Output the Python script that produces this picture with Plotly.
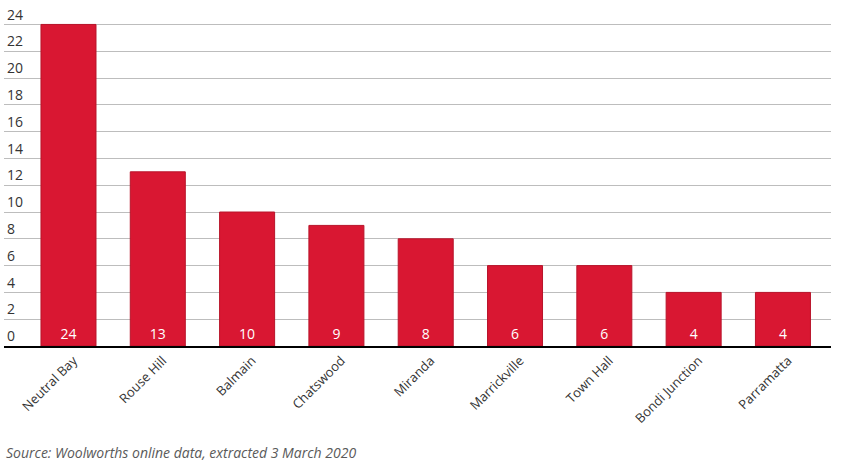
import plotly.graph_objects as go

categories = ["Neutral Bay", "Rouse Hill", "Balmain", "Chatswood", "Miranda",
              "Marrickville", "Town Hall", "Bondi Junction", "Parramatta"]
values = [24, 13, 10, 9, 8, 6, 6, 4, 4]
y_ticks = list(range(0, 25, 2))
source_text = "Source: Woolworths online data, extracted 3 March 2020"

FONT = "Open Sans"

fig = go.Figure(go.Bar(
    x=list(range(len(categories))),
    y=values,
    width=0.616,
    marker=dict(color="#D91732", line=dict(color="#B8142A", width=1)),
    text=[str(v) for v in values],
    textposition="inside",
    insidetextanchor="start",
    textfont=dict(color="white", size=14, family=FONT),
    textangle=0,
    hoverinfo="skip",
))

# plot area: y=0 at 346px, 13.42 px per unit, top extended so the "24" label fits
y_top = 25.6
top_px = 346 - y_top * (322 / 24)

fig.update_layout(
    width=856, height=467,
    margin=dict(l=4, r=25, t=top_px, b=121, autoexpand=False),
    paper_bgcolor="white", plot_bgcolor="white",
    showlegend=False,
    font=dict(family=FONT, color="#333333"),
    xaxis=dict(
        range=[-0.722, 8.538],
        tickmode="array",
        tickvals=list(range(len(categories))),
        ticktext=categories,
        tickangle=-45,
        ticklabelshift=5,
        tickfont=dict(size=13, color="#333333", family=FONT),
        showgrid=False,
        showline=True, linecolor="black", linewidth=2,
        ticks="",
        zeroline=False,
        fixedrange=True,
    ),
    yaxis=dict(
        range=[0, y_top],
        tickmode="array",
        tickvals=y_ticks,
        ticktext=[str(t) for t in y_ticks],
        ticklabelposition="inside top",
        tickfont=dict(size=14, color="#333333", family=FONT),
        showgrid=True, gridcolor="#BDBDBD", gridwidth=1,
        zeroline=False,
        showline=False,
        ticks="",
        fixedrange=True,
    ),
    annotations=[dict(
        text="<i>" + source_text + "</i>",
        xref="paper", yref="paper",
        x=0, y=-(453 - 346) / (346 - top_px), xanchor="left", yanchor="middle",
        showarrow=False,
        font=dict(size=14, color="#5a5a5a", family=FONT),
    )],
)

fig.write_html("out.html", config={"displayModeBar": False},
               post_script="document.body.style.margin='0';")
